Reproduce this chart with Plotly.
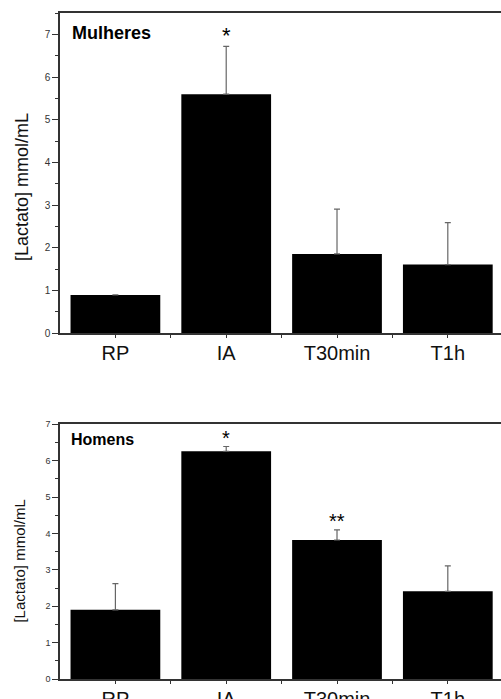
import plotly.graph_objects as go

categories = ["RP", "IA", "T30min", "T1h"]
mulheres_mean = [0.9, 5.6, 1.86, 1.61]
mulheres_sd = [None, 1.12, 1.05, 0.98]
homens_mean = [1.9, 6.26, 3.82, 2.41]
homens_sd = [0.72, 0.13, 0.28, 0.70]
mulheres_marks = ["", "*", "", ""]
homens_marks = ["", "*", "**", ""]

FONT = "Arial, Liberation Sans, sans-serif"
AX = "#333333"

fig = go.Figure()
for mean, sd, xa, ya in [(mulheres_mean, mulheres_sd, "x", "y"),
                         (homens_mean, homens_sd, "x2", "y2")]:
    fig.add_trace(go.Bar(
        x=categories, y=mean, xaxis=xa, yaxis=ya, width=0.81,
        marker=dict(color="black", line=dict(width=0)),
        error_y=dict(type="data", symmetric=False, array=sd,
                     arrayminus=[0 if s is not None else None for s in sd],
                     color="#666666", thickness=1.2, width=3),
        showlegend=False, hoverinfo="skip"))

def xaxis(domain_anchor):
    return dict(
        anchor=domain_anchor, domain=[0, 1], range=[-0.5, 3.48],
        showline=True, linecolor=AX, linewidth=1.5, mirror=True,
        ticks="outside", ticklen=3, tickcolor=AX, tickwidth=1,
        tickfont=dict(family=FONT, size=20, color="#111111"),
        ticklabelstandoff=-2, automargin=False,
        minor=dict(ticks="outside", ticklen=3, tickcolor=AX, tickvals=[0.5, 1.5, 2.5]),
        showgrid=False, zeroline=False, fixedrange=True)

def yaxis(domain, rng, anchor, fsize):
    return dict(
        anchor=anchor, domain=domain, range=rng,
        showline=True, linecolor=AX, linewidth=1.5, mirror=False,
        ticks="outside", ticklen=6, tickcolor=AX, tickwidth=1,
        dtick=1, tick0=0, automargin=False,
        tickfont=dict(family=FONT, size=fsize, color="#333333"),
        minor=dict(ticks="outside", ticklen=3, tickcolor=AX, dtick=0.5),
        showgrid=False, zeroline=False, fixedrange=True)

fig.update_layout(
    width=501, height=699,
    margin=dict(l=60, r=0, t=13, b=20, autoexpand=False),
    paper_bgcolor="white", plot_bgcolor="white",
    bargap=0.19,
    xaxis=xaxis("y"),
    yaxis=yaxis([0.519, 1.0], [0, 7.5], "x", 10),
    xaxis2=xaxis("y2"),
    yaxis2=yaxis([0.0, 0.3824], [0, 7], "x2", 9),
)

annotations = []
for i, m in enumerate(mulheres_marks):
    if m:
        annotations.append(dict(x=categories[i], y=mulheres_mean[i] + mulheres_sd[i],
                                xref="x", yref="y", text=m, showarrow=False,
                                yanchor="bottom", yshift=-4,
                                font=dict(family=FONT, size=22, color="black")))
for i, m in enumerate(homens_marks):
    if m:
        annotations.append(dict(x=categories[i], y=homens_mean[i] + homens_sd[i],
                                xref="x2", yref="y2", text=m, showarrow=False,
                                yanchor="bottom", yshift=-4,
                                font=dict(family=FONT, size=20, color="black")))
annotations += [
    dict(x=0.022, y=0.9376, xref="x domain", yref="y domain", text="<b>Mulheres</b>",
         showarrow=False, xanchor="left", yanchor="middle",
         font=dict(family=FONT, size=18, color="black")),
    dict(x=0.02, y=0.939, xref="x2 domain", yref="y2 domain", text="<b>Homens</b>",
         showarrow=False, xanchor="left", yanchor="middle",
         font=dict(family=FONT, size=16, color="black")),
    dict(x=-0.086, y=0.7387, xref="paper", yref="paper", text="[Lactato] mmol/mL",
         textangle=-90, showarrow=False, xanchor="center", yanchor="middle",
         font=dict(family=FONT, size=18, color="#111111")),
    dict(x=-0.092, y=0.177, xref="paper", yref="paper", text="[Lactato] mmol/mL",
         textangle=-90, showarrow=False, xanchor="center", yanchor="middle",
         font=dict(family=FONT, size=15, color="#111111")),
]
fig.update_layout(annotations=annotations)

fig.write_html("out.html", config={"displayModeBar": False},
               post_script="document.body.style.margin='0';document.body.style.overflow='hidden';")
